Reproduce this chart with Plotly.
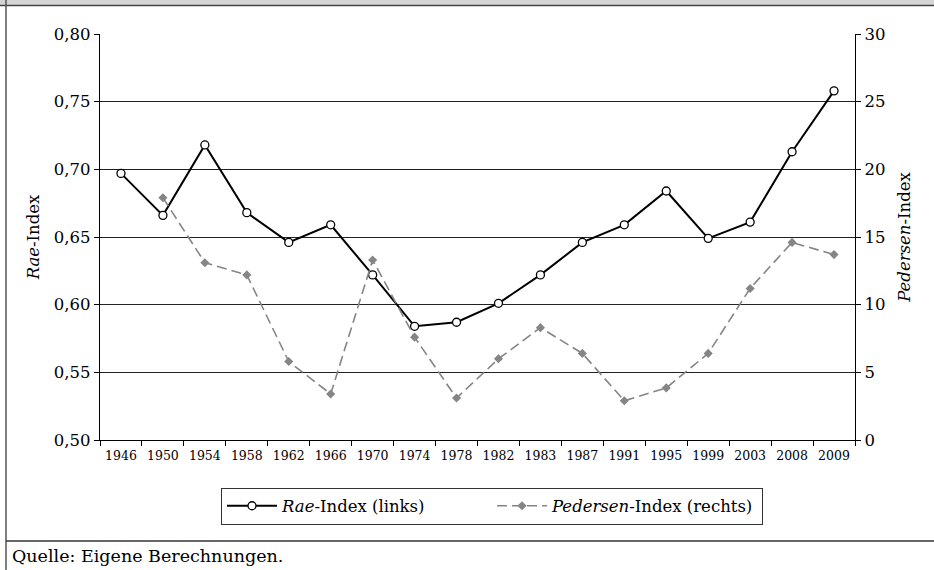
import plotly.graph_objects as go

years = ["1946", "1950", "1954", "1958", "1962", "1966", "1970", "1974", "1978",
         "1982", "1983", "1987", "1991", "1995", "1999", "2003", "2008", "2009"]
rae = [0.697, 0.666, 0.718, 0.668, 0.646, 0.659, 0.622, 0.584, 0.587,
       0.601, 0.622, 0.646, 0.659, 0.684, 0.649, 0.661, 0.713, 0.758]
pedersen = [None, 17.9, 13.1, 12.2, 5.8, 3.4, 13.3, 7.6, 3.1,
            6.0, 8.3, 6.4, 2.9, 3.85, 6.4, 11.2, 14.6, 13.7]
left_ticks = [0.50, 0.55, 0.60, 0.65, 0.70, 0.75, 0.80]
right_ticks = [0, 5, 10, 15, 20, 25, 30]

FONT = "DejaVu Serif, serif"
W, H = 934, 570
L, R, T, B = 100, 855, 34, 440
PW, PH = R - L, B - T


def px(x):
    return (x - L) / PW


def py(y):
    return (B - y) / PH


fig = go.Figure()
fig.add_trace(go.Scatter(
    x=years, y=rae, name="<i>Rae</i>-Index (links)", mode="lines+markers",
    line=dict(color="black", width=2),
    marker=dict(symbol="circle", size=8, color="white", line=dict(color="black", width=1.3)),
    yaxis="y"))
fig.add_trace(go.Scatter(
    x=years, y=pedersen, name="<i>Pedersen</i>-Index (rechts)", mode="lines+markers",
    line=dict(color="#858585", width=1.6, dash="10px,5px"),
    marker=dict(symbol="diamond", size=7, color="#858585"),
    yaxis="y2", connectgaps=False))

fig.update_layout(
    width=W, height=H,
    margin=dict(l=L, r=W - R, t=T, b=H - B),
    paper_bgcolor="white", plot_bgcolor="white",
    separators=",.",
    font=dict(family=FONT, color="black", size=16),
    showlegend=True,
    legend=dict(orientation="h", x=px((214 + 770) / 2), y=py(506),
                xref="paper", yref="paper", xanchor="center", yanchor="middle",
                bordercolor="#333", borderwidth=1, bgcolor="white",
                font=dict(family=FONT, size=16.5), itemwidth=50,
                entrywidth=205, entrywidthmode="pixels"),
    xaxis=dict(type="category", tickson="boundaries", ticks="outside", ticklen=5,
               tickcolor="black", showline=True, linecolor="black", linewidth=1,
               showgrid=False, tickfont=dict(size=12.5), tickangle=0,
               ticklabelstandoff=4, range=[-0.5, 17.5]),
    yaxis=dict(range=[0.50, 0.80], tickvals=left_ticks, tickformat=".2f",
               ticks="outside", ticklen=5, tickcolor="black",
               showline=True, linecolor="black", linewidth=1.2,
               showgrid=True, gridcolor="#222", gridwidth=1,
               zeroline=False, tickfont=dict(size=16.5),
               title=dict(text="<i>Rae</i>-Index", font=dict(size=16.5), standoff=10)),
    yaxis2=dict(range=[0, 30], tickvals=right_ticks, overlaying="y", side="right",
                ticks="outside", ticklen=5, tickcolor="black",
                showline=True, linecolor="black", linewidth=1.2,
                showgrid=False, zeroline=False, tickfont=dict(size=16.5),
                title=dict(text="<i>Pedersen</i>-Index", font=dict(size=16.5), standoff=14)),
)

# Frame elements of the figure box
fig.add_shape(type="rect", xref="paper", yref="paper",
              x0=px(0), x1=px(W), y0=py(5), y1=py(0),
              line=dict(width=0), fillcolor="#d4d4d4", layer="below")
fig.add_shape(type="line", xref="paper", yref="paper",
              x0=px(0), x1=px(W), y0=py(5.5), y1=py(5.5),
              line=dict(color="#444", width=1.5))
fig.add_shape(type="line", xref="paper", yref="paper",
              x0=px(6), x1=px(6), y0=py(H), y1=py(0),
              line=dict(color="#555", width=1.5))
fig.add_shape(type="line", xref="paper", yref="paper",
              x0=px(6), x1=px(W), y0=py(541), y1=py(541),
              line=dict(color="#333", width=1.5))
fig.add_annotation(text="Quelle: Eigene Berechnungen.", xref="paper", yref="paper",
                   x=px(10), y=py(556), xanchor="left", yanchor="middle",
                   showarrow=False, font=dict(family=FONT, size=17.5))

fig.write_html("out.html", config={"displayModeBar": False},
               post_script="document.body.style.margin='0';document.body.style.overflow='hidden';")
